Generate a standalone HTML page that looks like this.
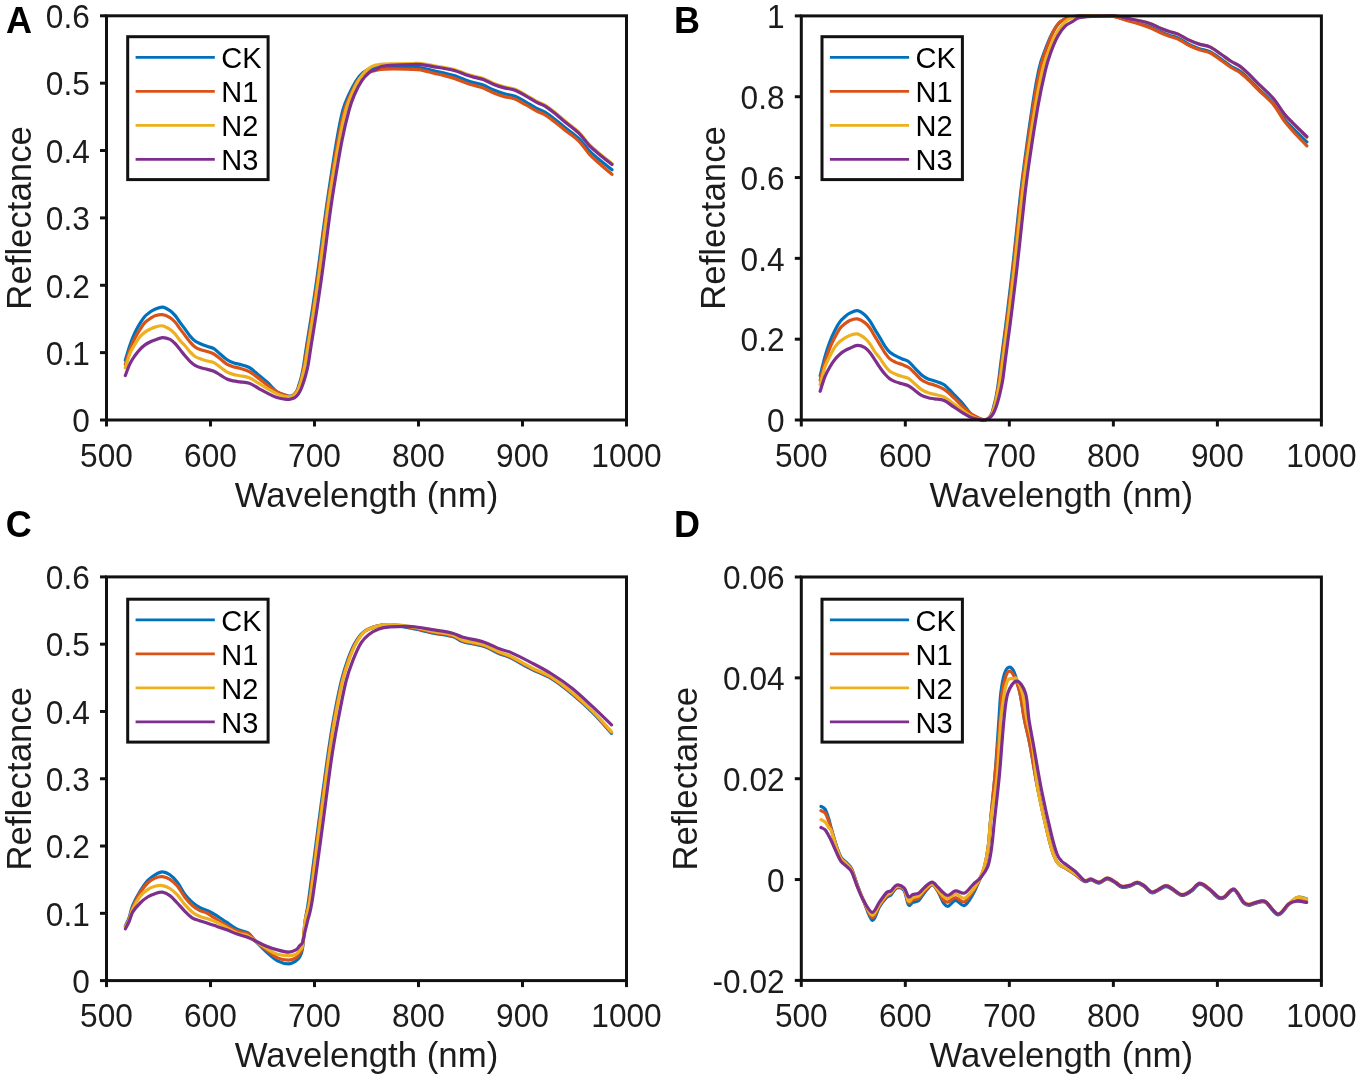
<!DOCTYPE html>
<html><head><meta charset="utf-8"><style>
html,body{margin:0;padding:0;background:#fff;}
svg{display:block;will-change:transform;}
.tk{font-family:"Liberation Sans",sans-serif;font-size:32px;fill:#1c1c1c;}
.lb{font-family:"Liberation Sans",sans-serif;font-size:34.8px;fill:#1c1c1c;}
.lg{font-family:"Liberation Sans",sans-serif;font-size:29px;fill:#000;}
.pl{font-family:"Liberation Sans",sans-serif;font-size:36px;font-weight:bold;fill:#000;}
</style></head><body>
<svg width="1360" height="1080" viewBox="0 0 1360 1080">
<rect width="1360" height="1080" fill="#fff"/>
<path d="M125.30,360.30 C126.08,357.75 128.38,349.63 130.00,345.00 C131.62,340.37 133.33,336.12 135.00,332.50 C136.67,328.88 138.33,326.00 140.00,323.30 C141.67,320.60 143.33,318.17 145.00,316.30 C146.67,314.43 148.33,313.28 150.00,312.10 C151.67,310.92 152.92,310.03 155.00,309.20 C157.08,308.37 160.00,306.87 162.50,307.10 C165.00,307.33 167.92,309.22 170.00,310.60 C172.08,311.98 173.33,313.43 175.00,315.40 C176.67,317.37 178.33,320.12 180.00,322.40 C181.67,324.68 183.33,326.83 185.00,329.10 C186.67,331.37 188.33,334.02 190.00,336.00 C191.67,337.98 193.18,339.67 195.00,341.00 C196.82,342.33 198.83,343.08 200.90,344.00 C202.97,344.92 205.23,345.72 207.40,346.50 C209.57,347.28 211.73,347.40 213.90,348.70 C216.07,350.00 218.25,352.50 220.40,354.30 C222.55,356.10 224.65,358.08 226.80,359.50 C228.95,360.92 231.13,361.98 233.30,362.80 C235.47,363.62 237.13,363.62 239.80,364.40 C242.47,365.18 246.18,365.75 249.30,367.50 C252.42,369.25 255.42,372.35 258.50,374.90 C261.58,377.45 264.72,379.98 267.80,382.80 C270.88,385.62 273.92,389.67 277.00,391.80 C280.08,393.93 284.13,394.87 286.30,395.60 C288.47,396.33 288.88,396.25 290.00,396.20 C291.12,396.15 291.88,396.12 293.00,395.30 C294.12,394.48 295.70,393.05 296.70,391.30 C297.70,389.55 298.25,387.10 299.00,384.80 C299.75,382.50 300.45,380.58 301.20,377.50 C301.95,374.42 302.63,371.38 303.50,366.30 C304.37,361.22 304.93,356.38 306.40,347.00 C307.87,337.62 310.35,322.83 312.30,310.00 C314.25,297.17 316.27,283.33 318.10,270.00 C319.93,256.67 321.62,242.50 323.30,230.00 C324.98,217.50 325.95,210.00 328.20,195.00 C330.45,180.00 334.35,154.17 336.80,140.00 C339.25,125.83 340.92,117.50 342.90,110.00 C344.88,102.50 346.50,99.85 348.70,95.00 C350.90,90.15 353.75,84.60 356.10,80.90 C358.45,77.20 360.32,74.85 362.80,72.80 C365.28,70.75 367.25,69.55 371.00,68.60 C374.75,67.65 378.37,67.32 385.30,67.10 C392.23,66.88 406.57,67.14 412.60,67.27 C418.63,67.40 417.97,67.28 421.50,67.86 C425.03,68.44 429.98,69.88 433.80,70.74 C437.62,71.60 440.87,72.18 444.40,73.03 C447.93,73.87 451.47,74.69 455.00,75.83 C458.53,76.98 462.37,78.76 465.60,79.92 C468.83,81.07 471.47,81.90 474.40,82.77 C477.33,83.64 479.97,83.90 483.20,85.12 C486.43,86.34 490.27,88.66 493.80,90.10 C497.33,91.55 500.87,92.77 504.40,93.79 C507.93,94.80 511.47,94.85 515.00,96.20 C518.53,97.55 522.07,99.92 525.60,101.90 C529.13,103.88 532.97,106.40 536.20,108.10 C539.43,109.80 542.07,110.38 545.00,112.10 C547.93,113.82 550.57,115.92 553.80,118.41 C557.03,120.91 560.28,123.79 564.40,127.09 C568.52,130.39 574.38,134.29 578.50,138.20 C582.62,142.11 585.87,147.19 589.10,150.57 C592.33,153.94 594.08,155.24 597.90,158.44 C601.72,161.65 609.65,167.91 612.00,169.80" fill="none" stroke="#0072BD" stroke-width="3.2" stroke-linejoin="round" stroke-linecap="round"/>
<path d="M125.30,364.40 C126.08,361.93 128.38,354.00 130.00,349.60 C131.62,345.20 133.33,341.35 135.00,338.00 C136.67,334.65 138.33,332.12 140.00,329.50 C141.67,326.88 143.33,324.12 145.00,322.30 C146.67,320.48 148.33,319.68 150.00,318.60 C151.67,317.52 152.92,316.47 155.00,315.80 C157.08,315.13 160.00,314.30 162.50,314.60 C165.00,314.90 167.92,316.37 170.00,317.60 C172.08,318.83 173.33,320.15 175.00,322.00 C176.67,323.85 178.33,326.47 180.00,328.70 C181.67,330.93 183.33,333.18 185.00,335.40 C186.67,337.62 188.33,340.07 190.00,342.00 C191.67,343.93 193.18,345.70 195.00,347.00 C196.82,348.30 198.83,349.03 200.90,349.80 C202.97,350.57 205.23,350.90 207.40,351.60 C209.57,352.30 211.73,352.78 213.90,354.00 C216.07,355.22 218.25,357.22 220.40,358.90 C222.55,360.58 224.65,362.80 226.80,364.10 C228.95,365.40 231.13,366.00 233.30,366.70 C235.47,367.40 237.13,367.47 239.80,368.30 C242.47,369.13 246.18,370.07 249.30,371.70 C252.42,373.33 255.42,375.78 258.50,378.10 C261.58,380.42 264.72,383.28 267.80,385.60 C270.88,387.92 273.92,390.32 277.00,392.00 C280.08,393.68 284.13,394.95 286.30,395.70 C288.47,396.45 288.88,396.50 290.00,396.50 C291.12,396.50 291.88,396.47 293.00,395.70 C294.12,394.93 295.65,393.58 296.70,391.90 C297.75,390.22 298.50,387.87 299.30,385.60 C300.10,383.33 300.70,381.58 301.50,378.30 C302.30,375.02 303.15,371.12 304.10,365.90 C305.05,360.68 305.70,356.32 307.20,347.00 C308.70,337.68 311.15,322.83 313.10,310.00 C315.05,297.17 317.07,283.33 318.90,270.00 C320.73,256.67 322.42,242.50 324.10,230.00 C325.78,217.50 326.68,210.00 329.00,195.00 C331.32,180.00 335.42,154.17 338.00,140.00 C340.58,125.83 342.45,117.50 344.50,110.00 C346.55,102.50 348.12,99.85 350.30,95.00 C352.48,90.15 355.23,84.48 357.60,80.90 C359.97,77.32 361.67,75.22 364.50,73.50 C367.33,71.78 371.13,71.33 374.60,70.60 C378.07,69.87 378.97,69.32 385.30,69.10 C391.63,68.88 406.57,69.14 412.60,69.30 C418.63,69.47 417.97,69.42 421.50,70.06 C425.03,70.71 429.98,72.24 433.80,73.18 C437.62,74.11 440.87,74.75 444.40,75.66 C447.93,76.57 451.47,77.46 455.00,78.63 C458.53,79.81 462.37,81.56 465.60,82.72 C468.83,83.87 471.47,84.70 474.40,85.57 C477.33,86.44 479.97,86.70 483.20,87.92 C486.43,89.14 490.27,91.46 493.80,92.90 C497.33,94.35 500.87,95.57 504.40,96.59 C507.93,97.60 511.47,97.65 515.00,99.00 C518.53,100.35 522.07,102.72 525.60,104.70 C529.13,106.68 532.97,109.20 536.20,110.90 C539.43,112.60 542.07,113.19 545.00,114.90 C547.93,116.61 550.57,118.68 553.80,121.16 C557.03,123.64 560.28,126.49 564.40,129.77 C568.52,133.05 574.38,136.82 578.50,140.83 C582.62,144.84 585.87,150.26 589.10,153.82 C592.33,157.38 594.08,158.78 597.90,162.21 C601.72,165.64 609.65,172.37 612.00,174.40" fill="none" stroke="#D95319" stroke-width="3.2" stroke-linejoin="round" stroke-linecap="round"/>
<path d="M125.30,367.80 C126.08,365.38 128.38,357.23 130.00,353.30 C131.62,349.37 133.33,346.97 135.00,344.20 C136.67,341.43 138.33,338.72 140.00,336.70 C141.67,334.68 143.33,333.35 145.00,332.10 C146.67,330.85 148.33,330.03 150.00,329.20 C151.67,328.37 152.92,327.67 155.00,327.10 C157.08,326.53 160.00,325.42 162.50,325.80 C165.00,326.18 167.92,328.05 170.00,329.40 C172.08,330.75 173.33,332.03 175.00,333.90 C176.67,335.77 178.33,338.62 180.00,340.60 C181.67,342.58 183.33,343.93 185.00,345.80 C186.67,347.67 188.33,350.02 190.00,351.80 C191.67,353.58 193.18,355.30 195.00,356.50 C196.82,357.70 198.83,358.25 200.90,359.00 C202.97,359.75 205.23,360.40 207.40,361.00 C209.57,361.60 211.73,361.55 213.90,362.60 C216.07,363.65 218.25,365.77 220.40,367.30 C222.55,368.83 224.65,370.62 226.80,371.80 C228.95,372.98 231.13,373.75 233.30,374.40 C235.47,375.05 237.13,375.15 239.80,375.70 C242.47,376.25 246.18,376.45 249.30,377.70 C252.42,378.95 255.42,381.35 258.50,383.20 C261.58,385.05 264.72,387.02 267.80,388.80 C270.88,390.58 273.92,392.58 277.00,393.90 C280.08,395.22 284.13,396.22 286.30,396.70 C288.47,397.18 288.88,396.90 290.00,396.80 C291.12,396.70 291.85,396.87 293.00,396.10 C294.15,395.33 295.80,393.90 296.90,392.20 C298.00,390.50 298.78,388.17 299.60,385.90 C300.42,383.63 300.92,381.93 301.80,378.60 C302.68,375.27 303.87,371.17 304.90,365.90 C305.93,360.63 306.50,356.32 308.00,347.00 C309.50,337.68 311.95,322.83 313.90,310.00 C315.85,297.17 317.87,283.33 319.70,270.00 C321.53,256.67 323.22,242.50 324.90,230.00 C326.58,217.50 327.40,210.00 329.80,195.00 C332.20,180.00 336.63,154.17 339.30,140.00 C341.97,125.83 343.80,117.50 345.80,110.00 C347.80,102.50 349.22,99.92 351.30,95.00 C353.38,90.08 356.05,84.33 358.30,80.50 C360.55,76.67 362.60,74.32 364.80,72.00 C367.00,69.68 369.13,67.85 371.50,66.60 C373.87,65.35 375.08,64.97 379.00,64.50 C382.92,64.03 389.40,63.97 395.00,63.80 C400.60,63.63 408.18,63.53 412.60,63.50 C417.02,63.47 417.97,63.22 421.50,63.60 C425.03,63.98 429.98,65.15 433.80,65.80 C437.62,66.45 440.87,66.83 444.40,67.50 C447.93,68.17 451.47,68.77 455.00,69.80 C458.53,70.83 462.37,72.60 465.60,73.70 C468.83,74.80 471.47,75.58 474.40,76.40 C477.33,77.22 479.97,77.43 483.20,78.60 C486.43,79.77 490.27,82.02 493.80,83.40 C497.33,84.78 500.87,85.93 504.40,86.90 C507.93,87.87 511.47,87.87 515.00,89.20 C518.53,90.53 522.07,92.92 525.60,94.90 C529.13,96.88 532.97,99.40 536.20,101.10 C539.43,102.80 542.07,103.35 545.00,105.10 C547.93,106.85 550.57,109.03 553.80,111.60 C557.03,114.17 560.28,117.12 564.40,120.50 C568.52,123.88 574.38,127.93 578.50,131.90 C582.62,135.87 585.87,140.92 589.10,144.30 C592.33,147.68 594.08,148.98 597.90,152.20 C601.72,155.42 609.65,161.70 612.00,163.60" fill="none" stroke="#EDB120" stroke-width="3.2" stroke-linejoin="round" stroke-linecap="round"/>
<path d="M125.30,375.60 C126.08,373.60 128.38,366.95 130.00,363.60 C131.62,360.25 133.33,357.88 135.00,355.50 C136.67,353.12 138.33,351.07 140.00,349.30 C141.67,347.53 143.33,346.12 145.00,344.90 C146.67,343.68 148.33,342.82 150.00,342.00 C151.67,341.18 152.92,340.73 155.00,340.00 C157.08,339.27 160.00,337.70 162.50,337.60 C165.00,337.50 167.92,338.42 170.00,339.40 C172.08,340.38 173.33,341.82 175.00,343.50 C176.67,345.18 178.33,347.45 180.00,349.50 C181.67,351.55 183.33,353.83 185.00,355.80 C186.67,357.77 188.33,359.72 190.00,361.30 C191.67,362.88 193.18,364.22 195.00,365.30 C196.82,366.38 198.83,367.12 200.90,367.80 C202.97,368.48 205.23,368.83 207.40,369.40 C209.57,369.97 211.73,370.25 213.90,371.20 C216.07,372.15 218.25,373.80 220.40,375.10 C222.55,376.40 224.65,378.03 226.80,379.00 C228.95,379.97 231.13,380.42 233.30,380.90 C235.47,381.38 237.13,381.52 239.80,381.90 C242.47,382.28 246.18,382.13 249.30,383.20 C252.42,384.27 255.42,386.60 258.50,388.30 C261.58,390.00 264.72,391.85 267.80,393.40 C270.88,394.95 273.92,396.60 277.00,397.60 C280.08,398.60 284.13,399.12 286.30,399.40 C288.47,399.68 288.58,399.60 290.00,399.30 C291.42,399.00 293.38,398.50 294.80,397.60 C296.22,396.70 297.38,395.50 298.50,393.90 C299.62,392.30 300.57,390.22 301.50,388.00 C302.43,385.78 303.37,382.88 304.10,380.60 C304.83,378.32 305.23,376.90 305.90,374.30 C306.57,371.70 307.27,369.55 308.10,365.00 C308.93,360.45 309.45,356.17 310.90,347.00 C312.35,337.83 314.85,322.83 316.80,310.00 C318.75,297.17 320.77,283.33 322.60,270.00 C324.43,256.67 326.12,242.50 327.80,230.00 C329.48,217.50 330.32,210.00 332.70,195.00 C335.08,180.00 339.37,154.17 342.10,140.00 C344.83,125.83 347.07,117.50 349.10,110.00 C351.13,102.50 352.20,99.85 354.30,95.00 C356.40,90.15 359.23,84.60 361.70,80.90 C364.17,77.20 366.63,74.77 369.10,72.80 C371.57,70.83 374.35,70.18 376.50,69.10 C378.65,68.02 378.92,66.98 382.00,66.30 C385.08,65.62 389.90,65.30 395.00,65.00 C400.10,64.70 408.18,64.57 412.60,64.50 C417.02,64.43 417.97,64.22 421.50,64.60 C425.03,64.98 429.98,66.15 433.80,66.80 C437.62,67.45 440.87,67.83 444.40,68.50 C447.93,69.17 451.47,69.77 455.00,70.80 C458.53,71.83 462.37,73.60 465.60,74.70 C468.83,75.80 471.47,76.58 474.40,77.40 C477.33,78.22 479.97,78.43 483.20,79.60 C486.43,80.77 490.27,83.02 493.80,84.40 C497.33,85.78 500.87,86.93 504.40,87.90 C507.93,88.87 511.47,88.87 515.00,90.20 C518.53,91.53 522.07,93.92 525.60,95.90 C529.13,97.88 532.97,100.40 536.20,102.10 C539.43,103.80 542.07,104.35 545.00,106.10 C547.93,107.85 550.57,110.03 553.80,112.60 C557.03,115.17 560.28,118.12 564.40,121.50 C568.52,124.88 574.38,128.93 578.50,132.90 C582.62,136.87 585.87,141.92 589.10,145.30 C592.33,148.68 594.08,149.98 597.90,153.20 C601.72,156.42 609.65,162.70 612.00,164.60" fill="none" stroke="#7E2F8E" stroke-width="3.2" stroke-linejoin="round" stroke-linecap="round"/>
<rect x="106.5" y="15.8" width="520.00" height="404.20" fill="none" stroke="#111" stroke-width="3"/>
<line x1="106.50" y1="420" x2="106.50" y2="426.5" stroke="#111" stroke-width="3"/>
<text transform="translate(106.50,466.5) scale(0.99,1.04)" text-anchor="middle" class="tk">500</text>
<line x1="210.50" y1="420" x2="210.50" y2="426.5" stroke="#111" stroke-width="3"/>
<text transform="translate(210.50,466.5) scale(0.99,1.04)" text-anchor="middle" class="tk">600</text>
<line x1="314.50" y1="420" x2="314.50" y2="426.5" stroke="#111" stroke-width="3"/>
<text transform="translate(314.50,466.5) scale(0.99,1.04)" text-anchor="middle" class="tk">700</text>
<line x1="418.50" y1="420" x2="418.50" y2="426.5" stroke="#111" stroke-width="3"/>
<text transform="translate(418.50,466.5) scale(0.99,1.04)" text-anchor="middle" class="tk">800</text>
<line x1="522.50" y1="420" x2="522.50" y2="426.5" stroke="#111" stroke-width="3"/>
<text transform="translate(522.50,466.5) scale(0.99,1.04)" text-anchor="middle" class="tk">900</text>
<line x1="626.50" y1="420" x2="626.50" y2="426.5" stroke="#111" stroke-width="3"/>
<text transform="translate(626.50,466.5) scale(0.99,1.04)" text-anchor="middle" class="tk">1000</text>
<line x1="100.0" y1="420.00" x2="106.5" y2="420.00" stroke="#111" stroke-width="3"/>
<text transform="translate(89.8,432.30) scale(0.99,1.04)" text-anchor="end" class="tk">0</text>
<line x1="100.0" y1="352.63" x2="106.5" y2="352.63" stroke="#111" stroke-width="3"/>
<text transform="translate(89.8,364.93) scale(0.99,1.04)" text-anchor="end" class="tk">0.1</text>
<line x1="100.0" y1="285.27" x2="106.5" y2="285.27" stroke="#111" stroke-width="3"/>
<text transform="translate(89.8,297.57) scale(0.99,1.04)" text-anchor="end" class="tk">0.2</text>
<line x1="100.0" y1="217.90" x2="106.5" y2="217.90" stroke="#111" stroke-width="3"/>
<text transform="translate(89.8,230.20) scale(0.99,1.04)" text-anchor="end" class="tk">0.3</text>
<line x1="100.0" y1="150.53" x2="106.5" y2="150.53" stroke="#111" stroke-width="3"/>
<text transform="translate(89.8,162.83) scale(0.99,1.04)" text-anchor="end" class="tk">0.4</text>
<line x1="100.0" y1="83.17" x2="106.5" y2="83.17" stroke="#111" stroke-width="3"/>
<text transform="translate(89.8,95.47) scale(0.99,1.04)" text-anchor="end" class="tk">0.5</text>
<line x1="100.0" y1="15.80" x2="106.5" y2="15.80" stroke="#111" stroke-width="3"/>
<text transform="translate(89.8,28.10) scale(0.99,1.04)" text-anchor="end" class="tk">0.6</text>
<text transform="translate(366.50,506.5) scale(1,1.03)" text-anchor="middle" class="lb">Wavelength (nm)</text>
<text transform="translate(30.6,217.90) rotate(-90) scale(1,1.03)" text-anchor="middle" class="lb">Reflectance</text>
<text x="6" y="32.8" class="pl">A</text>
<rect x="127.7" y="36.7" width="140.4" height="142.9" fill="#fff" stroke="#111" stroke-width="3"/>
<line x1="135.6" y1="57.40" x2="214.8" y2="57.40" stroke="#0072BD" stroke-width="2.8"/>
<text x="221.2" y="68.00" class="lg">CK</text>
<line x1="135.6" y1="91.40" x2="214.8" y2="91.40" stroke="#D95319" stroke-width="2.8"/>
<text x="221.2" y="102.00" class="lg">N1</text>
<line x1="135.6" y1="125.40" x2="214.8" y2="125.40" stroke="#EDB120" stroke-width="2.8"/>
<text x="221.2" y="136.00" class="lg">N2</text>
<line x1="135.6" y1="159.40" x2="214.8" y2="159.40" stroke="#7E2F8E" stroke-width="2.8"/>
<text x="221.2" y="170.00" class="lg">N3</text>
<path d="M820.15,375.92 C820.93,372.79 823.23,362.82 824.85,357.13 C826.47,351.44 828.18,346.22 829.85,341.78 C831.52,337.34 833.18,333.80 834.85,330.49 C836.52,327.17 838.18,324.18 839.85,321.89 C841.52,319.60 843.18,318.19 844.85,316.73 C846.52,315.28 847.77,314.20 849.85,313.17 C851.93,312.15 854.85,310.31 857.35,310.59 C859.85,310.88 862.77,313.19 864.85,314.89 C866.93,316.59 868.18,318.37 869.85,320.79 C871.52,323.20 873.18,326.58 874.85,329.38 C876.52,332.19 878.18,334.83 879.85,337.61 C881.52,340.39 883.18,343.65 884.85,346.08 C886.52,348.52 888.03,350.58 889.85,352.22 C891.67,353.86 893.68,354.78 895.75,355.90 C897.82,357.03 900.08,358.01 902.25,358.97 C904.42,359.94 906.58,360.08 908.75,361.68 C910.92,363.27 913.10,366.34 915.25,368.55 C917.40,370.76 919.50,373.20 921.65,374.94 C923.80,376.68 925.98,377.99 928.15,378.99 C930.32,379.99 931.98,379.99 934.65,380.95 C937.32,381.91 941.03,382.61 944.15,384.76 C947.27,386.91 950.27,390.71 953.35,393.85 C956.43,396.98 959.57,400.09 962.65,403.55 C965.73,407.00 968.77,411.98 971.85,414.60 C974.93,417.22 978.98,418.36 981.15,419.26 C983.32,420.16 983.73,420.06 984.85,420.00 C985.97,419.94 986.73,419.90 987.85,418.89 C988.97,417.89 990.55,416.13 991.55,413.98 C992.55,411.83 993.10,408.83 993.85,406.00 C994.60,403.18 995.30,400.82 996.05,397.04 C996.80,393.25 997.48,389.53 998.35,383.29 C999.22,377.04 999.78,371.11 1001.25,359.59 C1002.72,348.07 1005.20,329.91 1007.15,314.16 C1009.10,298.40 1011.12,281.41 1012.95,265.04 C1014.78,248.67 1016.46,231.27 1018.15,215.92 C1019.84,200.58 1020.71,191.37 1023.11,172.95 C1025.51,154.53 1029.88,122.81 1032.54,105.41 C1035.21,88.02 1037.01,77.79 1039.10,68.58 C1041.18,59.37 1042.82,56.11 1045.05,50.16 C1047.28,44.20 1050.10,37.39 1052.45,32.84 C1054.80,28.30 1056.67,25.42 1059.15,22.90 C1061.63,20.38 1063.60,18.91 1067.35,17.74 C1071.10,16.58 1074.72,16.17 1081.65,15.90 C1088.58,15.63 1103.17,15.95 1108.95,16.11 C1114.73,16.27 1113.07,16.13 1116.35,16.84 C1119.63,17.55 1124.83,19.31 1128.65,20.37 C1132.47,21.43 1135.72,22.13 1139.25,23.18 C1142.78,24.22 1146.32,25.21 1149.85,26.63 C1153.38,28.04 1157.22,30.22 1160.45,31.64 C1163.68,33.06 1166.32,34.07 1169.25,35.14 C1172.18,36.20 1174.82,36.53 1178.05,38.03 C1181.28,39.53 1185.12,42.37 1188.65,44.15 C1192.18,45.92 1195.72,47.42 1199.25,48.67 C1202.78,49.92 1206.32,49.97 1209.85,51.63 C1213.38,53.29 1216.92,56.20 1220.45,58.63 C1223.98,61.07 1227.82,64.16 1231.05,66.24 C1234.28,68.33 1236.92,69.04 1239.85,71.16 C1242.78,73.27 1245.42,75.84 1248.65,78.91 C1251.88,81.97 1255.13,85.51 1259.25,89.56 C1263.37,93.61 1269.23,98.40 1273.35,103.20 C1277.47,108.01 1280.72,114.25 1283.95,118.39 C1287.18,122.53 1288.93,124.12 1292.75,128.06 C1296.57,131.99 1304.50,139.68 1306.85,142.00" fill="none" stroke="#0072BD" stroke-width="3.2" stroke-linejoin="round" stroke-linecap="round"/>
<path d="M820.15,380.38 C820.93,377.34 823.23,367.54 824.85,362.11 C826.47,356.68 828.18,351.93 829.85,347.80 C831.52,343.66 833.18,340.53 834.85,337.30 C836.52,334.07 838.18,330.66 839.85,328.42 C841.52,326.17 843.18,325.19 844.85,323.85 C846.52,322.51 847.77,321.22 849.85,320.39 C851.93,319.57 854.85,318.54 857.35,318.91 C859.85,319.28 862.77,321.09 864.85,322.62 C866.93,324.14 868.18,325.76 869.85,328.05 C871.52,330.33 873.18,333.56 874.85,336.32 C876.52,339.07 878.18,341.85 879.85,344.59 C881.52,347.32 883.18,350.35 884.85,352.73 C886.52,355.12 888.03,357.30 889.85,358.90 C891.67,360.51 893.68,361.41 895.75,362.36 C897.82,363.31 900.08,363.72 902.25,364.58 C904.42,365.45 906.58,366.04 908.75,367.54 C910.92,369.05 913.10,371.51 915.25,373.59 C917.40,375.67 919.50,378.41 921.65,380.01 C923.80,381.61 925.98,382.35 928.15,383.22 C930.32,384.08 931.98,384.17 934.65,385.19 C937.32,386.22 941.03,387.37 944.15,389.39 C947.27,391.41 950.27,394.43 953.35,397.29 C956.43,400.15 959.57,403.69 962.65,406.55 C965.73,409.41 968.77,412.37 971.85,414.45 C974.93,416.52 978.98,418.09 981.15,419.01 C983.32,419.94 983.73,420.00 984.85,420.00 C985.97,420.00 986.73,419.96 987.85,419.01 C988.97,418.07 990.50,416.40 991.55,414.32 C992.60,412.24 993.35,409.34 994.15,406.55 C994.95,403.75 995.55,401.59 996.35,397.54 C997.15,393.48 998.00,388.67 998.95,382.23 C999.90,375.79 1000.55,370.40 1002.05,358.90 C1003.55,347.40 1006.00,329.08 1007.95,313.24 C1009.90,297.40 1011.92,280.32 1013.75,263.86 C1015.58,247.41 1017.25,229.92 1018.95,214.49 C1020.65,199.07 1021.46,189.81 1023.93,171.29 C1026.40,152.78 1030.97,120.90 1033.77,103.41 C1036.57,85.92 1038.58,75.64 1040.73,66.38 C1042.87,57.12 1044.45,53.85 1046.65,47.87 C1048.85,41.88 1051.58,34.89 1053.95,30.46 C1056.32,26.04 1058.02,23.45 1060.85,21.33 C1063.68,19.21 1067.48,18.66 1070.95,17.75 C1074.42,16.85 1075.32,16.17 1081.65,15.90 C1087.98,15.63 1103.17,15.95 1108.95,16.15 C1114.73,16.35 1113.07,16.29 1116.35,17.09 C1119.63,17.89 1124.83,19.78 1128.65,20.93 C1132.47,22.08 1135.72,22.88 1139.25,24.00 C1142.78,25.12 1146.32,26.22 1149.85,27.67 C1153.38,29.12 1157.22,31.28 1160.45,32.71 C1163.68,34.13 1166.32,35.16 1169.25,36.23 C1172.18,37.30 1174.82,37.62 1178.05,39.13 C1181.28,40.64 1185.12,43.50 1188.65,45.28 C1192.18,47.06 1195.72,48.57 1199.25,49.83 C1202.78,51.08 1206.32,51.14 1209.85,52.80 C1213.38,54.47 1216.92,57.39 1220.45,59.84 C1223.98,62.29 1227.82,65.39 1231.05,67.49 C1234.28,69.59 1236.92,70.32 1239.85,72.43 C1242.78,74.54 1245.42,77.10 1248.65,80.16 C1251.88,83.22 1255.13,86.74 1259.25,90.78 C1263.37,94.83 1269.23,99.48 1273.35,104.43 C1277.47,109.38 1280.72,116.07 1283.95,120.47 C1287.18,124.87 1288.93,126.59 1292.75,130.83 C1296.57,135.06 1304.50,143.36 1306.85,145.87" fill="none" stroke="#D95319" stroke-width="3.2" stroke-linejoin="round" stroke-linecap="round"/>
<path d="M820.15,384.84 C820.93,381.91 823.23,372.03 824.85,367.26 C826.47,362.49 828.18,359.58 829.85,356.23 C831.52,352.87 833.18,349.58 834.85,347.13 C836.52,344.69 838.18,343.07 839.85,341.56 C841.52,340.04 843.18,339.05 844.85,338.04 C846.52,337.03 847.77,336.18 849.85,335.49 C851.93,334.81 854.85,333.45 857.35,333.92 C859.85,334.38 862.77,336.65 864.85,338.28 C866.93,339.92 868.18,341.48 869.85,343.74 C871.52,346.00 873.18,349.46 874.85,351.86 C876.52,354.27 878.18,355.90 879.85,358.17 C881.52,360.43 883.18,363.28 884.85,365.44 C886.52,367.60 888.03,369.68 889.85,371.14 C891.67,372.59 893.68,373.26 895.75,374.17 C897.82,375.08 900.08,375.87 902.25,376.60 C904.42,377.32 906.58,377.26 908.75,378.54 C910.92,379.81 913.10,382.37 915.25,384.23 C917.40,386.09 919.50,388.25 921.65,389.69 C923.80,391.12 925.98,392.05 928.15,392.84 C930.32,393.63 931.98,393.75 934.65,394.42 C937.32,395.08 941.03,395.33 944.15,396.84 C947.27,398.36 950.27,401.27 953.35,403.51 C956.43,405.75 959.57,408.14 962.65,410.30 C965.73,412.46 968.77,414.89 971.85,416.48 C974.93,418.08 978.98,419.29 981.15,419.88 C983.32,420.46 983.73,420.12 984.85,420.00 C985.97,419.88 986.70,420.08 987.85,419.15 C989.00,418.22 990.65,416.48 991.75,414.42 C992.85,412.36 993.63,409.53 994.45,406.78 C995.27,404.04 995.77,401.98 996.65,397.93 C997.53,393.89 998.72,388.92 999.75,382.54 C1000.78,376.15 1001.35,370.92 1002.85,359.62 C1004.35,348.33 1006.80,330.32 1008.75,314.76 C1010.70,299.20 1012.72,282.43 1014.55,266.26 C1016.38,250.10 1018.06,232.92 1019.75,217.77 C1021.44,202.61 1022.14,193.52 1024.68,175.33 C1027.22,157.15 1032.12,125.83 1035.00,108.65 C1037.88,91.47 1039.84,81.37 1041.95,72.28 C1044.06,63.18 1045.53,60.05 1047.65,54.09 C1049.77,48.13 1052.40,41.16 1054.65,36.51 C1056.90,31.86 1058.95,29.01 1061.15,26.21 C1063.35,23.40 1065.48,21.17 1067.85,19.66 C1070.22,18.14 1071.43,17.68 1075.35,17.11 C1079.27,16.55 1085.75,16.47 1091.35,16.26 C1096.95,16.06 1104.78,15.94 1108.95,15.90 C1113.12,15.86 1113.07,15.56 1116.35,16.02 C1119.63,16.49 1124.83,17.90 1128.65,18.69 C1132.47,19.48 1135.72,19.94 1139.25,20.75 C1142.78,21.56 1146.32,22.29 1149.85,23.54 C1153.38,24.79 1157.22,26.93 1160.45,28.27 C1163.68,29.60 1166.32,30.55 1169.25,31.54 C1172.18,32.53 1174.82,32.79 1178.05,34.21 C1181.28,35.62 1185.12,38.35 1188.65,40.03 C1192.18,41.70 1195.72,43.10 1199.25,44.27 C1202.78,45.44 1206.32,45.44 1209.85,47.06 C1213.38,48.68 1216.92,51.57 1220.45,53.97 C1223.98,56.37 1227.82,59.43 1231.05,61.49 C1234.28,63.55 1236.92,64.21 1239.85,66.34 C1242.78,68.46 1245.42,71.11 1248.65,74.22 C1251.88,77.33 1255.13,80.91 1259.25,85.01 C1263.37,89.11 1269.23,94.02 1273.35,98.83 C1277.47,103.64 1280.72,109.76 1283.95,113.86 C1287.18,117.97 1288.93,119.54 1292.75,123.44 C1296.57,127.34 1304.50,134.96 1306.85,137.26" fill="none" stroke="#EDB120" stroke-width="3.2" stroke-linejoin="round" stroke-linecap="round"/>
<path d="M820.15,391.28 C820.93,388.87 823.23,380.84 824.85,376.80 C826.47,372.76 828.18,369.90 829.85,367.03 C831.52,364.15 833.18,361.68 834.85,359.55 C836.52,357.42 838.18,355.71 839.85,354.24 C841.52,352.77 843.18,351.72 844.85,350.74 C846.52,349.75 847.77,349.21 849.85,348.33 C851.93,347.44 854.85,345.55 857.35,345.43 C859.85,345.31 862.77,346.42 864.85,347.60 C866.93,348.79 868.18,350.52 869.85,352.55 C871.52,354.58 873.18,357.32 874.85,359.79 C876.52,362.26 878.18,365.02 879.85,367.39 C881.52,369.76 883.18,372.12 884.85,374.03 C886.52,375.94 888.03,377.55 889.85,378.85 C891.67,380.16 893.68,381.05 895.75,381.87 C897.82,382.70 900.08,383.12 902.25,383.80 C904.42,384.48 906.58,384.83 908.75,385.97 C910.92,387.12 913.10,389.11 915.25,390.68 C917.40,392.25 919.50,394.22 921.65,395.38 C923.80,396.55 925.98,397.09 928.15,397.68 C930.32,398.26 931.98,398.42 934.65,398.88 C937.32,399.35 941.03,399.17 944.15,400.45 C947.27,401.74 950.27,404.56 953.35,406.61 C956.43,408.66 959.57,410.89 962.65,412.76 C965.73,414.63 968.77,416.62 971.85,417.83 C974.93,419.03 978.98,419.66 981.15,420.00 C983.32,420.34 983.43,420.24 984.85,419.88 C986.27,419.52 988.23,418.91 989.65,417.83 C991.07,416.74 992.23,415.29 993.35,413.36 C994.47,411.43 995.42,408.92 996.35,406.24 C997.28,403.57 998.22,400.07 998.95,397.32 C999.68,394.56 1000.08,392.85 1000.75,389.71 C1001.42,386.58 1002.12,383.98 1002.95,378.49 C1003.78,373.00 1004.30,367.83 1005.75,356.77 C1007.20,345.71 1009.70,327.61 1011.65,312.13 C1013.60,296.64 1015.62,279.95 1017.45,263.86 C1019.28,247.77 1020.96,230.68 1022.65,215.60 C1024.34,200.51 1025.07,191.46 1027.60,173.37 C1030.13,155.27 1034.88,124.09 1037.82,107.00 C1040.77,89.91 1043.13,79.85 1045.27,70.80 C1047.41,61.75 1048.52,58.55 1050.65,52.70 C1052.78,46.85 1055.58,40.15 1058.05,35.69 C1060.52,31.22 1062.98,28.29 1065.45,25.92 C1067.92,23.54 1070.70,22.76 1072.85,21.45 C1075.00,20.14 1075.27,18.90 1078.35,18.07 C1081.43,17.25 1086.25,16.87 1091.35,16.50 C1096.45,16.14 1104.78,15.98 1108.95,15.90 C1113.12,15.82 1113.07,15.56 1116.35,16.02 C1119.63,16.48 1124.83,17.89 1128.65,18.68 C1132.47,19.46 1135.72,19.92 1139.25,20.73 C1142.78,21.53 1146.32,22.25 1149.85,23.50 C1153.38,24.75 1157.22,26.88 1160.45,28.21 C1163.68,29.53 1166.32,30.48 1169.25,31.47 C1172.18,32.45 1174.82,32.71 1178.05,34.12 C1181.28,35.53 1185.12,38.24 1188.65,39.91 C1192.18,41.58 1195.72,42.97 1199.25,44.14 C1202.78,45.30 1206.32,45.30 1209.85,46.91 C1213.38,48.52 1216.92,51.39 1220.45,53.79 C1223.98,56.18 1227.82,59.22 1231.05,61.27 C1234.28,63.32 1236.92,63.98 1239.85,66.10 C1242.78,68.21 1245.42,70.84 1248.65,73.94 C1251.88,77.04 1255.13,80.60 1259.25,84.68 C1263.37,88.76 1269.23,93.65 1273.35,98.43 C1277.47,103.22 1280.72,109.31 1283.95,113.40 C1287.18,117.48 1288.93,119.05 1292.75,122.93 C1296.57,126.81 1304.50,134.39 1306.85,136.68" fill="none" stroke="#7E2F8E" stroke-width="3.2" stroke-linejoin="round" stroke-linecap="round"/>
<rect x="801.3" y="15.9" width="520.10" height="404.10" fill="none" stroke="#111" stroke-width="3"/>
<line x1="801.30" y1="420" x2="801.30" y2="426.5" stroke="#111" stroke-width="3"/>
<text transform="translate(801.30,466.5) scale(0.99,1.04)" text-anchor="middle" class="tk">500</text>
<line x1="905.32" y1="420" x2="905.32" y2="426.5" stroke="#111" stroke-width="3"/>
<text transform="translate(905.32,466.5) scale(0.99,1.04)" text-anchor="middle" class="tk">600</text>
<line x1="1009.34" y1="420" x2="1009.34" y2="426.5" stroke="#111" stroke-width="3"/>
<text transform="translate(1009.34,466.5) scale(0.99,1.04)" text-anchor="middle" class="tk">700</text>
<line x1="1113.36" y1="420" x2="1113.36" y2="426.5" stroke="#111" stroke-width="3"/>
<text transform="translate(1113.36,466.5) scale(0.99,1.04)" text-anchor="middle" class="tk">800</text>
<line x1="1217.38" y1="420" x2="1217.38" y2="426.5" stroke="#111" stroke-width="3"/>
<text transform="translate(1217.38,466.5) scale(0.99,1.04)" text-anchor="middle" class="tk">900</text>
<line x1="1321.40" y1="420" x2="1321.40" y2="426.5" stroke="#111" stroke-width="3"/>
<text transform="translate(1321.40,466.5) scale(0.99,1.04)" text-anchor="middle" class="tk">1000</text>
<line x1="794.8" y1="420.00" x2="801.3" y2="420.00" stroke="#111" stroke-width="3"/>
<text transform="translate(784.5999999999999,432.30) scale(0.99,1.04)" text-anchor="end" class="tk">0</text>
<line x1="794.8" y1="339.18" x2="801.3" y2="339.18" stroke="#111" stroke-width="3"/>
<text transform="translate(784.5999999999999,351.48) scale(0.99,1.04)" text-anchor="end" class="tk">0.2</text>
<line x1="794.8" y1="258.36" x2="801.3" y2="258.36" stroke="#111" stroke-width="3"/>
<text transform="translate(784.5999999999999,270.66) scale(0.99,1.04)" text-anchor="end" class="tk">0.4</text>
<line x1="794.8" y1="177.54" x2="801.3" y2="177.54" stroke="#111" stroke-width="3"/>
<text transform="translate(784.5999999999999,189.84) scale(0.99,1.04)" text-anchor="end" class="tk">0.6</text>
<line x1="794.8" y1="96.72" x2="801.3" y2="96.72" stroke="#111" stroke-width="3"/>
<text transform="translate(784.5999999999999,109.02) scale(0.99,1.04)" text-anchor="end" class="tk">0.8</text>
<line x1="794.8" y1="15.90" x2="801.3" y2="15.90" stroke="#111" stroke-width="3"/>
<text transform="translate(784.5999999999999,28.20) scale(0.99,1.04)" text-anchor="end" class="tk">1</text>
<text transform="translate(1061.35,506.5) scale(1,1.03)" text-anchor="middle" class="lb">Wavelength (nm)</text>
<text transform="translate(725,217.95) rotate(-90) scale(1,1.03)" text-anchor="middle" class="lb">Reflectance</text>
<text x="674" y="32.9" class="pl">B</text>
<rect x="822" y="36.7" width="140.4" height="142.9" fill="#fff" stroke="#111" stroke-width="3"/>
<line x1="829.9" y1="57.40" x2="909.1" y2="57.40" stroke="#0072BD" stroke-width="2.8"/>
<text x="915.5" y="68.00" class="lg">CK</text>
<line x1="829.9" y1="91.40" x2="909.1" y2="91.40" stroke="#D95319" stroke-width="2.8"/>
<text x="915.5" y="102.00" class="lg">N1</text>
<line x1="829.9" y1="125.40" x2="909.1" y2="125.40" stroke="#EDB120" stroke-width="2.8"/>
<text x="915.5" y="136.00" class="lg">N2</text>
<line x1="829.9" y1="159.40" x2="909.1" y2="159.40" stroke="#7E2F8E" stroke-width="2.8"/>
<text x="915.5" y="170.00" class="lg">N3</text>
<path d="M125.40,926.00 C126.02,924.63 127.87,921.27 129.10,917.80 C130.33,914.33 130.95,909.65 132.80,905.20 C134.65,900.75 137.73,895.18 140.20,891.10 C142.67,887.02 145.13,883.42 147.60,880.70 C150.07,877.98 152.53,876.27 155.00,874.80 C157.47,873.33 159.92,871.90 162.40,871.90 C164.88,871.90 167.42,873.08 169.90,874.80 C172.38,876.52 174.83,878.98 177.30,882.20 C179.77,885.42 182.23,890.77 184.70,894.10 C187.17,897.43 189.63,899.98 192.10,902.20 C194.57,904.42 197.03,906.03 199.50,907.40 C201.97,908.77 204.38,909.23 206.90,910.40 C209.42,911.57 211.42,912.48 214.60,914.40 C217.78,916.32 222.25,919.42 226.00,921.90 C229.75,924.38 233.42,927.47 237.10,929.30 C240.78,931.13 245.05,930.95 248.10,932.90 C251.15,934.85 252.33,937.80 255.40,941.00 C258.47,944.20 262.82,948.78 266.50,952.10 C270.18,955.42 273.83,958.95 277.50,960.90 C281.17,962.85 285.43,963.80 288.50,963.80 C291.57,963.80 294.05,962.03 295.90,960.90 C297.75,959.77 298.50,959.07 299.60,957.00 C300.70,954.93 301.55,954.67 302.50,948.50 C303.45,942.33 304.27,928.08 305.30,920.00 C306.33,911.92 306.62,915.00 308.70,900.00 C310.78,885.00 314.72,853.33 317.80,830.00 C320.88,806.67 324.60,778.33 327.20,760.00 C329.80,741.67 331.05,733.17 333.40,720.00 C335.75,706.83 338.88,691.10 341.30,681.00 C343.72,670.90 345.60,665.77 347.90,659.40 C350.20,653.03 352.43,647.42 355.10,642.80 C357.77,638.18 360.30,634.48 363.90,631.70 C367.50,628.92 372.43,627.27 376.70,626.10 C380.97,624.93 383.70,624.33 389.50,624.70 C395.30,625.07 404.42,626.93 411.50,628.30 C418.58,629.67 425.15,631.53 432.00,632.90 C438.85,634.27 447.43,635.03 452.60,636.50 C457.77,637.97 457.85,640.07 463.00,641.70 C468.15,643.33 477.33,644.25 483.50,646.30 C489.67,648.35 495.48,652.08 500.00,654.00 C504.52,655.92 505.40,655.28 510.60,657.80 C515.80,660.32 524.33,665.58 531.20,669.10 C538.07,672.62 544.93,674.70 551.80,678.90 C558.67,683.10 565.55,688.63 572.40,694.30 C579.25,699.97 586.38,706.38 592.90,712.90 C599.42,719.42 608.40,729.98 611.50,733.40" fill="none" stroke="#0072BD" stroke-width="3.2" stroke-linejoin="round" stroke-linecap="round"/>
<path d="M125.40,926.50 C126.02,925.30 127.87,922.48 129.10,919.30 C130.33,916.12 130.95,911.85 132.80,907.40 C134.65,902.95 137.73,896.67 140.20,892.60 C142.67,888.53 145.13,885.42 147.60,883.00 C150.07,880.58 152.53,879.15 155.00,878.10 C157.47,877.05 159.92,876.50 162.40,876.70 C164.88,876.90 167.42,877.77 169.90,879.30 C172.38,880.83 174.83,882.95 177.30,885.90 C179.77,888.85 182.23,893.78 184.70,897.00 C187.17,900.22 189.63,902.97 192.10,905.20 C194.57,907.43 197.03,909.10 199.50,910.40 C201.97,911.70 204.38,911.73 206.90,913.00 C209.42,914.27 211.42,915.97 214.60,918.00 C217.78,920.03 222.25,923.02 226.00,925.20 C229.75,927.38 233.42,929.63 237.10,931.10 C240.78,932.57 245.05,932.35 248.10,934.00 C251.15,935.65 252.33,938.35 255.40,941.00 C258.47,943.65 262.82,947.08 266.50,949.90 C270.18,952.72 273.83,956.20 277.50,957.90 C281.17,959.60 285.43,960.10 288.50,960.10 C291.57,960.10 294.05,959.03 295.90,957.90 C297.75,956.77 298.50,955.12 299.60,953.30 C300.70,951.48 301.55,952.55 302.50,947.00 C303.45,941.45 304.15,927.83 305.30,920.00 C306.45,912.17 307.20,915.00 309.40,900.00 C311.60,885.00 315.42,853.33 318.50,830.00 C321.58,806.67 325.30,778.33 327.90,760.00 C330.50,741.67 331.75,733.17 334.10,720.00 C336.45,706.83 339.58,691.10 342.00,681.00 C344.42,670.90 346.30,665.77 348.60,659.40 C350.90,653.03 353.19,647.42 355.80,642.80 C358.41,638.18 360.71,634.48 364.25,631.70 C367.79,628.92 372.78,627.27 377.05,626.10 C381.32,624.93 384.11,624.47 389.85,624.70 C395.59,624.93 404.48,626.27 411.50,627.50 C418.52,628.73 425.15,630.73 432.00,632.10 C438.85,633.47 447.43,634.23 452.60,635.70 C457.77,637.17 457.85,639.27 463.00,640.90 C468.15,642.53 477.33,643.45 483.50,645.50 C489.67,647.55 495.48,651.28 500.00,653.20 C504.52,655.12 505.40,654.48 510.60,657.00 C515.80,659.52 524.33,664.78 531.20,668.30 C538.07,671.82 544.93,673.90 551.80,678.10 C558.67,682.30 565.55,687.83 572.40,693.50 C579.25,699.17 586.38,705.58 592.90,712.10 C599.42,718.62 608.40,729.18 611.50,732.60" fill="none" stroke="#D95319" stroke-width="3.2" stroke-linejoin="round" stroke-linecap="round"/>
<path d="M125.40,927.00 C126.02,925.83 127.87,923.02 129.10,920.00 C130.33,916.98 130.95,912.85 132.80,908.90 C134.65,904.95 137.73,899.52 140.20,896.30 C142.67,893.08 145.13,891.27 147.60,889.60 C150.07,887.93 152.53,886.97 155.00,886.30 C157.47,885.63 159.92,885.23 162.40,885.60 C164.88,885.97 167.42,886.97 169.90,888.50 C172.38,890.03 174.83,892.15 177.30,894.80 C179.77,897.45 182.23,901.55 184.70,904.40 C187.17,907.25 189.63,909.92 192.10,911.90 C194.57,913.88 197.03,915.20 199.50,916.30 C201.97,917.40 204.38,917.67 206.90,918.50 C209.42,919.33 211.42,919.87 214.60,921.30 C217.78,922.73 222.25,925.17 226.00,927.10 C229.75,929.03 233.42,931.43 237.10,932.90 C240.78,934.37 245.05,934.55 248.10,935.90 C251.15,937.25 252.33,938.92 255.40,941.00 C258.47,943.08 262.82,946.18 266.50,948.40 C270.18,950.62 273.83,953.08 277.50,954.30 C281.17,955.52 285.43,955.70 288.50,955.70 C291.57,955.70 294.05,955.20 295.90,954.30 C297.75,953.40 298.50,951.77 299.60,950.30 C300.70,948.83 301.55,950.55 302.50,945.50 C303.45,940.45 304.05,927.58 305.30,920.00 C306.55,912.42 307.70,915.00 310.00,900.00 C312.30,885.00 316.02,853.33 319.10,830.00 C322.18,806.67 325.90,778.33 328.50,760.00 C331.10,741.67 332.35,733.17 334.70,720.00 C337.05,706.83 340.18,691.10 342.60,681.00 C345.02,670.90 346.90,665.77 349.20,659.40 C351.50,653.03 353.84,647.42 356.40,642.80 C358.96,638.18 361.06,634.48 364.55,631.70 C368.04,628.92 373.08,627.27 377.35,626.10 C381.62,624.93 384.46,624.60 390.15,624.70 C395.84,624.80 404.52,625.60 411.50,626.70 C418.48,627.80 425.15,629.93 432.00,631.30 C438.85,632.67 447.43,633.43 452.60,634.90 C457.77,636.37 457.85,638.47 463.00,640.10 C468.15,641.73 477.33,642.65 483.50,644.70 C489.67,646.75 495.48,650.48 500.00,652.40 C504.52,654.32 505.40,653.68 510.60,656.20 C515.80,658.72 524.33,663.98 531.20,667.50 C538.07,671.02 544.93,673.10 551.80,677.30 C558.67,681.50 565.55,687.03 572.40,692.70 C579.25,698.37 586.38,704.78 592.90,711.30 C599.42,717.82 608.40,728.38 611.50,731.80" fill="none" stroke="#EDB120" stroke-width="3.2" stroke-linejoin="round" stroke-linecap="round"/>
<path d="M125.40,928.90 C126.02,927.67 127.87,924.33 129.10,921.50 C130.33,918.67 130.95,914.98 132.80,911.90 C134.65,908.82 137.73,905.48 140.20,903.00 C142.67,900.52 145.13,898.55 147.60,897.00 C150.07,895.45 152.53,894.50 155.00,893.70 C157.47,892.90 159.92,891.88 162.40,892.20 C164.88,892.52 167.42,893.80 169.90,895.60 C172.38,897.40 174.83,900.42 177.30,903.00 C179.77,905.58 182.23,908.63 184.70,911.10 C187.17,913.57 189.63,916.20 192.10,917.80 C194.57,919.40 197.03,919.83 199.50,920.70 C201.97,921.57 204.38,922.18 206.90,923.00 C209.42,923.82 211.42,924.50 214.60,925.60 C217.78,926.70 222.25,928.20 226.00,929.60 C229.75,931.00 233.42,932.70 237.10,934.00 C240.78,935.30 245.05,936.23 248.10,937.40 C251.15,938.57 252.33,939.53 255.40,941.00 C258.47,942.47 262.82,944.72 266.50,946.20 C270.18,947.68 273.83,948.92 277.50,949.90 C281.17,950.88 285.43,952.10 288.50,952.10 C291.57,952.10 294.05,950.95 295.90,949.90 C297.75,948.85 298.50,947.03 299.60,945.80 C300.70,944.57 301.60,944.87 302.50,942.50 C303.40,940.13 304.12,935.35 305.00,931.60 C305.88,927.85 306.58,925.27 307.80,920.00 C309.02,914.73 309.93,915.00 312.30,900.00 C314.67,885.00 318.83,853.33 322.00,830.00 C325.17,806.67 328.62,778.33 331.30,760.00 C333.98,741.67 335.63,733.17 338.10,720.00 C340.57,706.83 343.57,691.10 346.10,681.00 C348.63,670.90 350.80,665.77 353.30,659.40 C355.80,653.03 358.50,646.97 361.10,642.80 C363.70,638.63 365.93,636.72 368.90,634.40 C371.87,632.08 375.38,630.15 378.90,628.90 C382.42,627.65 384.57,627.30 390.00,626.90 C395.43,626.50 404.50,626.05 411.50,626.50 C418.50,626.95 425.15,628.48 432.00,629.60 C438.85,630.72 447.43,631.92 452.60,633.20 C457.77,634.48 457.85,635.85 463.00,637.30 C468.15,638.75 477.33,639.93 483.50,641.90 C489.67,643.87 495.48,647.35 500.00,649.10 C504.52,650.85 505.40,650.15 510.60,652.40 C515.80,654.65 524.33,659.00 531.20,662.60 C538.07,666.20 544.93,669.70 551.80,674.00 C558.67,678.30 565.55,682.92 572.40,688.40 C579.25,693.88 586.38,700.82 592.90,706.90 C599.42,712.98 608.40,721.90 611.50,724.90" fill="none" stroke="#7E2F8E" stroke-width="3.2" stroke-linejoin="round" stroke-linecap="round"/>
<rect x="106.5" y="576.9" width="520.00" height="403.70" fill="none" stroke="#111" stroke-width="3"/>
<line x1="106.50" y1="980.6" x2="106.50" y2="987.1" stroke="#111" stroke-width="3"/>
<text transform="translate(106.50,1027.1) scale(0.99,1.04)" text-anchor="middle" class="tk">500</text>
<line x1="210.50" y1="980.6" x2="210.50" y2="987.1" stroke="#111" stroke-width="3"/>
<text transform="translate(210.50,1027.1) scale(0.99,1.04)" text-anchor="middle" class="tk">600</text>
<line x1="314.50" y1="980.6" x2="314.50" y2="987.1" stroke="#111" stroke-width="3"/>
<text transform="translate(314.50,1027.1) scale(0.99,1.04)" text-anchor="middle" class="tk">700</text>
<line x1="418.50" y1="980.6" x2="418.50" y2="987.1" stroke="#111" stroke-width="3"/>
<text transform="translate(418.50,1027.1) scale(0.99,1.04)" text-anchor="middle" class="tk">800</text>
<line x1="522.50" y1="980.6" x2="522.50" y2="987.1" stroke="#111" stroke-width="3"/>
<text transform="translate(522.50,1027.1) scale(0.99,1.04)" text-anchor="middle" class="tk">900</text>
<line x1="626.50" y1="980.6" x2="626.50" y2="987.1" stroke="#111" stroke-width="3"/>
<text transform="translate(626.50,1027.1) scale(0.99,1.04)" text-anchor="middle" class="tk">1000</text>
<line x1="100.0" y1="980.60" x2="106.5" y2="980.60" stroke="#111" stroke-width="3"/>
<text transform="translate(89.8,992.90) scale(0.99,1.04)" text-anchor="end" class="tk">0</text>
<line x1="100.0" y1="913.32" x2="106.5" y2="913.32" stroke="#111" stroke-width="3"/>
<text transform="translate(89.8,925.62) scale(0.99,1.04)" text-anchor="end" class="tk">0.1</text>
<line x1="100.0" y1="846.03" x2="106.5" y2="846.03" stroke="#111" stroke-width="3"/>
<text transform="translate(89.8,858.33) scale(0.99,1.04)" text-anchor="end" class="tk">0.2</text>
<line x1="100.0" y1="778.75" x2="106.5" y2="778.75" stroke="#111" stroke-width="3"/>
<text transform="translate(89.8,791.05) scale(0.99,1.04)" text-anchor="end" class="tk">0.3</text>
<line x1="100.0" y1="711.47" x2="106.5" y2="711.47" stroke="#111" stroke-width="3"/>
<text transform="translate(89.8,723.77) scale(0.99,1.04)" text-anchor="end" class="tk">0.4</text>
<line x1="100.0" y1="644.18" x2="106.5" y2="644.18" stroke="#111" stroke-width="3"/>
<text transform="translate(89.8,656.48) scale(0.99,1.04)" text-anchor="end" class="tk">0.5</text>
<line x1="100.0" y1="576.90" x2="106.5" y2="576.90" stroke="#111" stroke-width="3"/>
<text transform="translate(89.8,589.20) scale(0.99,1.04)" text-anchor="end" class="tk">0.6</text>
<text transform="translate(366.50,1067.1) scale(1,1.03)" text-anchor="middle" class="lb">Wavelength (nm)</text>
<text transform="translate(30.6,778.75) rotate(-90) scale(1,1.03)" text-anchor="middle" class="lb">Reflectance</text>
<text x="5.8" y="537.3" class="pl">C</text>
<rect x="127.7" y="599.2" width="140.4" height="142.9" fill="#fff" stroke="#111" stroke-width="3"/>
<line x1="135.6" y1="619.90" x2="214.8" y2="619.90" stroke="#0072BD" stroke-width="2.8"/>
<text x="221.2" y="630.50" class="lg">CK</text>
<line x1="135.6" y1="653.90" x2="214.8" y2="653.90" stroke="#D95319" stroke-width="2.8"/>
<text x="221.2" y="664.50" class="lg">N1</text>
<line x1="135.6" y1="687.90" x2="214.8" y2="687.90" stroke="#EDB120" stroke-width="2.8"/>
<text x="221.2" y="698.50" class="lg">N2</text>
<line x1="135.6" y1="721.90" x2="214.8" y2="721.90" stroke="#7E2F8E" stroke-width="2.8"/>
<text x="221.2" y="732.50" class="lg">N3</text>
<path d="M821.00,806.40 C821.70,806.90 823.90,807.28 825.20,809.40 C826.50,811.52 827.78,815.92 828.80,819.10 C829.82,822.28 830.08,824.18 831.30,828.50 C832.52,832.82 834.50,840.25 836.10,845.00 C837.70,849.75 839.10,854.00 840.90,857.00 C842.70,860.00 845.10,861.00 846.90,863.00 C848.70,865.00 849.90,865.17 851.70,869.00 C853.50,872.83 855.70,880.67 857.70,886.00 C859.70,891.33 861.28,895.30 863.70,901.00 C866.12,906.70 869.58,919.20 872.20,920.20 C874.82,921.20 877.00,910.78 879.40,907.00 C881.80,903.22 884.68,899.50 886.60,897.50 C888.52,895.50 889.20,896.58 890.90,895.00 C892.60,893.42 894.60,888.75 896.80,888.00 C899.00,887.25 902.15,887.68 904.10,890.50 C906.05,893.32 907.03,902.93 908.50,904.90 C909.97,906.87 911.18,903.05 912.90,902.30 C914.62,901.55 916.83,902.05 918.80,900.40 C920.77,898.75 922.48,895.00 924.70,892.40 C926.92,889.80 929.90,884.95 932.10,884.80 C934.30,884.65 935.95,888.40 937.90,891.50 C939.85,894.60 942.08,900.93 943.80,903.40 C945.52,905.87 946.23,906.80 948.20,906.30 C950.17,905.80 952.90,900.52 955.60,900.40 C958.30,900.28 961.47,906.70 964.40,905.60 C967.33,904.50 970.68,898.07 973.20,893.80 C975.72,889.53 977.63,884.38 979.50,880.00 C981.37,875.62 982.93,873.17 984.40,867.50 C985.87,861.83 987.27,853.92 988.30,846.00 C989.33,838.08 989.48,831.83 990.60,820.00 C991.72,808.17 993.62,791.67 995.00,775.00 C996.38,758.33 997.93,733.62 998.90,720.00 C999.87,706.38 999.88,700.98 1000.80,693.30 C1001.72,685.62 1003.05,678.25 1004.40,673.90 C1005.75,669.55 1007.30,667.52 1008.90,667.20 C1010.50,666.88 1012.15,667.65 1014.00,672.00 C1015.85,676.35 1018.25,685.30 1020.00,693.30 C1021.75,701.30 1022.83,711.38 1024.50,720.00 C1026.17,728.62 1027.75,733.33 1030.00,745.00 C1032.25,756.67 1035.00,775.00 1038.00,790.00 C1041.00,805.00 1045.33,824.00 1048.00,835.00 C1050.67,846.00 1052.17,851.08 1054.00,856.00 C1055.83,860.92 1056.97,862.40 1059.00,864.50 C1061.03,866.60 1063.47,866.92 1066.20,868.60 C1068.93,870.28 1072.32,872.45 1075.40,874.60 C1078.48,876.75 1082.12,880.60 1084.70,881.50 C1087.28,882.40 1088.50,879.73 1090.90,880.00 C1093.30,880.27 1096.35,883.27 1099.10,883.10 C1101.85,882.93 1104.65,879.00 1107.40,879.00 C1110.15,879.00 1113.20,881.73 1115.60,883.10 C1118.00,884.47 1119.40,886.68 1121.80,887.20 C1124.20,887.72 1127.43,886.88 1130.00,886.20 C1132.57,885.52 1134.80,883.02 1137.20,883.10 C1139.60,883.18 1141.83,885.07 1144.40,886.70 C1146.97,888.33 1149.17,892.90 1152.60,892.90 C1156.03,892.90 1161.90,887.38 1165.00,886.70 C1168.10,886.02 1168.45,887.35 1171.20,888.80 C1173.95,890.25 1178.20,894.95 1181.50,895.40 C1184.80,895.85 1187.98,893.37 1191.00,891.50 C1194.02,889.63 1196.58,884.53 1199.60,884.20 C1202.62,883.87 1205.92,887.18 1209.10,889.50 C1212.28,891.82 1216.15,896.75 1218.70,898.10 C1221.25,899.45 1221.85,898.95 1224.40,897.60 C1226.95,896.25 1230.82,889.12 1234.00,890.00 C1237.18,890.88 1240.95,900.35 1243.50,902.90 C1246.05,905.45 1247.07,905.30 1249.30,905.30 C1251.53,905.30 1254.20,903.38 1256.90,902.90 C1259.60,902.42 1261.98,900.42 1265.50,902.40 C1269.02,904.38 1274.17,914.40 1278.00,914.80 C1281.83,915.20 1285.32,907.70 1288.50,904.80 C1291.68,901.90 1294.08,898.40 1297.10,897.40 C1300.12,896.40 1305.02,898.57 1306.60,898.80" fill="none" stroke="#0072BD" stroke-width="3.2" stroke-linejoin="round" stroke-linecap="round"/>
<path d="M821.00,810.60 C821.70,811.00 823.90,811.18 825.20,813.00 C826.50,814.82 827.78,818.75 828.80,821.50 C829.82,824.25 830.08,825.50 831.30,829.50 C832.52,833.50 834.50,840.82 836.10,845.50 C837.70,850.18 839.10,854.58 840.90,857.60 C842.70,860.62 845.10,861.60 846.90,863.60 C848.70,865.60 849.90,865.78 851.70,869.60 C853.50,873.42 855.70,881.28 857.70,886.50 C859.70,891.72 861.28,895.70 863.70,900.90 C866.12,906.10 869.58,916.90 872.20,917.70 C874.82,918.50 877.00,909.30 879.40,905.70 C881.80,902.10 884.68,898.08 886.60,896.10 C888.52,894.12 889.20,895.28 890.90,893.80 C892.60,892.32 894.60,887.93 896.80,887.20 C899.00,886.47 902.15,886.83 904.10,889.40 C906.05,891.97 907.03,900.88 908.50,902.60 C909.97,904.32 911.18,900.43 912.90,899.70 C914.62,898.97 916.83,899.67 918.80,898.20 C920.77,896.73 922.48,893.22 924.70,890.90 C926.92,888.58 929.90,884.30 932.10,884.30 C934.30,884.30 935.95,888.22 937.90,890.90 C939.85,893.58 942.08,898.57 943.80,900.40 C945.52,902.23 946.23,902.38 948.20,901.90 C950.17,901.42 952.90,897.50 955.60,897.50 C958.30,897.50 961.47,902.98 964.40,901.90 C967.33,900.82 970.68,894.73 973.20,891.00 C975.72,887.27 977.63,883.55 979.50,879.50 C981.37,875.45 982.93,872.30 984.40,866.70 C985.87,861.10 987.27,853.68 988.30,845.90 C989.33,838.12 989.48,831.73 990.60,820.00 C991.72,808.27 993.42,792.17 995.00,775.50 C996.58,758.83 998.93,733.70 1000.10,720.00 C1001.27,706.30 1001.03,700.63 1002.00,693.30 C1002.97,685.97 1004.67,679.70 1005.90,676.00 C1007.13,672.30 1008.05,671.10 1009.40,671.10 C1010.75,671.10 1012.23,672.30 1014.00,676.00 C1015.77,679.70 1018.25,685.97 1020.00,693.30 C1021.75,700.63 1022.83,711.38 1024.50,720.00 C1026.17,728.62 1027.75,733.33 1030.00,745.00 C1032.25,756.67 1035.00,775.00 1038.00,790.00 C1041.00,805.00 1045.33,824.00 1048.00,835.00 C1050.67,846.00 1052.17,851.08 1054.00,856.00 C1055.83,860.92 1056.97,862.43 1059.00,864.50 C1061.03,866.57 1063.47,866.72 1066.20,868.40 C1068.93,870.08 1072.32,872.48 1075.40,874.60 C1078.48,876.72 1082.12,880.27 1084.70,881.10 C1087.28,881.93 1088.50,879.33 1090.90,879.60 C1093.30,879.87 1096.35,882.87 1099.10,882.70 C1101.85,882.53 1104.65,878.60 1107.40,878.60 C1110.15,878.60 1113.20,881.33 1115.60,882.70 C1118.00,884.07 1119.40,886.28 1121.80,886.80 C1124.20,887.32 1127.43,886.48 1130.00,885.80 C1132.57,885.12 1134.80,882.62 1137.20,882.70 C1139.60,882.78 1141.83,884.67 1144.40,886.30 C1146.97,887.93 1149.17,892.50 1152.60,892.50 C1156.03,892.50 1161.90,886.98 1165.00,886.30 C1168.10,885.62 1168.45,886.95 1171.20,888.40 C1173.95,889.85 1178.20,894.55 1181.50,895.00 C1184.80,895.45 1187.98,892.97 1191.00,891.10 C1194.02,889.23 1196.58,884.13 1199.60,883.80 C1202.62,883.47 1205.92,886.78 1209.10,889.10 C1212.28,891.42 1216.15,896.35 1218.70,897.70 C1221.25,899.05 1221.85,898.55 1224.40,897.20 C1226.95,895.85 1230.82,888.72 1234.00,889.60 C1237.18,890.48 1240.95,899.95 1243.50,902.50 C1246.05,905.05 1247.07,904.90 1249.30,904.90 C1251.53,904.90 1254.20,902.98 1256.90,902.50 C1259.60,902.02 1261.98,900.02 1265.50,902.00 C1269.02,903.98 1274.17,914.00 1278.00,914.40 C1281.83,914.80 1285.32,906.80 1288.50,904.40 C1291.68,902.00 1294.08,900.50 1297.10,900.00 C1300.12,899.50 1305.02,901.17 1306.60,901.40" fill="none" stroke="#D95319" stroke-width="3.2" stroke-linejoin="round" stroke-linecap="round"/>
<path d="M821.00,819.70 C821.70,820.10 823.90,820.80 825.20,822.10 C826.50,823.40 827.78,826.02 828.80,827.50 C829.82,828.98 830.08,827.83 831.30,831.00 C832.52,834.17 834.50,841.92 836.10,846.50 C837.70,851.08 839.10,855.50 840.90,858.50 C842.70,861.50 845.10,862.50 846.90,864.50 C848.70,866.50 849.90,866.75 851.70,870.50 C853.50,874.25 855.70,881.93 857.70,887.00 C859.70,892.07 861.28,896.18 863.70,900.90 C866.12,905.62 869.58,914.70 872.20,915.30 C874.82,915.90 877.00,907.88 879.40,904.50 C881.80,901.12 884.68,897.00 886.60,895.00 C888.52,893.00 889.20,893.92 890.90,892.50 C892.60,891.08 894.60,887.12 896.80,886.50 C899.00,885.88 902.15,886.35 904.10,888.80 C906.05,891.25 907.03,899.75 908.50,901.20 C909.97,902.65 911.18,898.37 912.90,897.50 C914.62,896.63 916.83,897.35 918.80,896.00 C920.77,894.65 922.48,891.43 924.70,889.40 C926.92,887.37 929.90,883.70 932.10,883.80 C934.30,883.90 935.95,887.83 937.90,890.00 C939.85,892.17 942.08,895.43 943.80,896.80 C945.52,898.17 946.23,898.70 948.20,898.20 C950.17,897.70 952.90,893.80 955.60,893.80 C958.30,893.80 961.47,898.93 964.40,898.20 C967.33,897.47 970.68,892.60 973.20,889.40 C975.72,886.20 977.63,882.82 979.50,879.00 C981.37,875.18 982.93,871.92 984.40,866.50 C985.87,861.08 987.27,854.08 988.30,846.50 C989.33,838.92 989.15,832.50 990.60,821.00 C992.05,809.50 995.28,794.33 997.00,777.50 C998.72,760.67 999.68,734.03 1000.90,720.00 C1002.12,705.97 1003.13,699.97 1004.30,693.30 C1005.47,686.63 1006.30,682.40 1007.90,680.00 C1009.50,677.60 1012.47,679.08 1013.90,678.90 C1015.33,678.72 1015.07,676.50 1016.50,678.90 C1017.93,681.30 1020.75,686.45 1022.50,693.30 C1024.25,700.15 1025.33,711.38 1027.00,720.00 C1028.67,728.62 1030.67,733.33 1032.50,745.00 C1034.33,756.67 1035.42,775.00 1038.00,790.00 C1040.58,805.00 1045.33,824.00 1048.00,835.00 C1050.67,846.00 1052.17,851.08 1054.00,856.00 C1055.83,860.92 1056.97,862.50 1059.00,864.50 C1061.03,866.50 1063.47,866.42 1066.20,868.00 C1068.93,869.58 1072.32,871.93 1075.40,874.00 C1078.48,876.07 1082.12,879.58 1084.70,880.40 C1087.28,881.22 1088.50,878.63 1090.90,878.90 C1093.30,879.17 1096.35,882.17 1099.10,882.00 C1101.85,881.83 1104.65,877.90 1107.40,877.90 C1110.15,877.90 1113.20,880.63 1115.60,882.00 C1118.00,883.37 1119.40,885.58 1121.80,886.10 C1124.20,886.62 1127.43,885.78 1130.00,885.10 C1132.57,884.42 1134.80,881.92 1137.20,882.00 C1139.60,882.08 1141.83,883.97 1144.40,885.60 C1146.97,887.23 1149.17,891.80 1152.60,891.80 C1156.03,891.80 1161.90,886.28 1165.00,885.60 C1168.10,884.92 1168.45,886.25 1171.20,887.70 C1173.95,889.15 1178.20,893.85 1181.50,894.30 C1184.80,894.75 1187.98,892.27 1191.00,890.40 C1194.02,888.53 1196.58,883.43 1199.60,883.10 C1202.62,882.77 1205.92,886.08 1209.10,888.40 C1212.28,890.72 1216.15,895.65 1218.70,897.00 C1221.25,898.35 1221.85,897.85 1224.40,896.50 C1226.95,895.15 1230.82,888.02 1234.00,888.90 C1237.18,889.78 1240.95,899.25 1243.50,901.80 C1246.05,904.35 1247.07,904.20 1249.30,904.20 C1251.53,904.20 1254.20,902.28 1256.90,901.80 C1259.60,901.32 1261.98,899.32 1265.50,901.30 C1269.02,903.28 1274.17,913.30 1278.00,913.70 C1281.83,914.10 1285.32,906.40 1288.50,903.70 C1291.68,901.00 1294.08,898.30 1297.10,897.50 C1300.12,896.70 1305.02,898.67 1306.60,898.90" fill="none" stroke="#EDB120" stroke-width="3.2" stroke-linejoin="round" stroke-linecap="round"/>
<path d="M821.00,827.50 C821.70,827.90 823.90,828.50 825.20,829.90 C826.50,831.30 827.78,834.10 828.80,835.90 C829.82,837.70 830.08,838.08 831.30,840.70 C832.52,843.32 834.50,848.18 836.10,851.60 C837.70,855.02 839.10,858.70 840.90,861.20 C842.70,863.70 845.10,864.80 846.90,866.60 C848.70,868.40 849.90,868.48 851.70,872.00 C853.50,875.52 855.70,882.88 857.70,887.70 C859.70,892.52 861.28,896.80 863.70,900.90 C866.12,905.00 869.58,912.10 872.20,912.30 C874.82,912.50 877.00,905.40 879.40,902.10 C881.80,898.80 884.68,894.37 886.60,892.50 C888.52,890.63 889.20,892.15 890.90,890.90 C892.60,889.65 894.60,885.50 896.80,885.00 C899.00,884.50 902.15,885.93 904.10,887.90 C906.05,889.87 907.03,895.68 908.50,896.80 C909.97,897.92 911.18,895.22 912.90,894.60 C914.62,893.98 916.83,894.33 918.80,893.10 C920.77,891.87 922.48,889.03 924.70,887.20 C926.92,885.37 929.90,882.10 932.10,882.10 C934.30,882.10 935.95,885.37 937.90,887.20 C939.85,889.03 942.08,891.75 943.80,893.10 C945.52,894.45 946.23,895.67 948.20,895.30 C950.17,894.93 952.90,891.27 955.60,890.90 C958.30,890.53 961.47,894.20 964.40,893.10 C967.33,892.00 970.40,886.98 973.20,884.30 C976.00,881.62 978.78,879.93 981.20,877.00 C983.62,874.07 986.08,870.80 987.70,866.70 C989.32,862.60 990.03,857.48 990.90,852.40 C991.77,847.32 992.30,841.60 992.90,836.20 C993.50,830.80 993.42,830.20 994.50,820.00 C995.58,809.80 997.83,791.67 999.40,775.00 C1000.97,758.33 1002.50,733.62 1003.90,720.00 C1005.30,706.38 1005.67,699.78 1007.80,693.30 C1009.93,686.82 1013.75,681.10 1016.70,681.10 C1019.65,681.10 1023.45,686.82 1025.50,693.30 C1027.55,699.78 1027.67,711.38 1029.00,720.00 C1030.33,728.62 1031.42,733.33 1033.50,745.00 C1035.58,756.67 1038.50,775.00 1041.50,790.00 C1044.50,805.00 1048.92,824.33 1051.50,835.00 C1054.08,845.67 1055.33,849.67 1057.00,854.00 C1058.67,858.33 1059.97,859.25 1061.50,861.00 C1063.03,862.75 1063.88,862.75 1066.20,864.50 C1068.52,866.25 1072.32,868.80 1075.40,871.50 C1078.48,874.20 1082.12,879.42 1084.70,880.70 C1087.28,881.98 1088.50,878.93 1090.90,879.20 C1093.30,879.47 1096.35,882.47 1099.10,882.30 C1101.85,882.13 1104.65,878.20 1107.40,878.20 C1110.15,878.20 1113.20,880.93 1115.60,882.30 C1118.00,883.67 1119.40,885.88 1121.80,886.40 C1124.20,886.92 1127.43,886.08 1130.00,885.40 C1132.57,884.72 1134.80,882.22 1137.20,882.30 C1139.60,882.38 1141.83,884.27 1144.40,885.90 C1146.97,887.53 1149.17,892.10 1152.60,892.10 C1156.03,892.10 1161.90,886.58 1165.00,885.90 C1168.10,885.22 1168.45,886.55 1171.20,888.00 C1173.95,889.45 1178.20,894.15 1181.50,894.60 C1184.80,895.05 1187.98,892.57 1191.00,890.70 C1194.02,888.83 1196.58,883.73 1199.60,883.40 C1202.62,883.07 1205.92,886.38 1209.10,888.70 C1212.28,891.02 1216.15,895.95 1218.70,897.30 C1221.25,898.65 1221.85,898.15 1224.40,896.80 C1226.95,895.45 1230.82,888.32 1234.00,889.20 C1237.18,890.08 1240.95,899.55 1243.50,902.10 C1246.05,904.65 1247.07,904.50 1249.30,904.50 C1251.53,904.50 1254.20,902.58 1256.90,902.10 C1259.60,901.62 1261.98,899.62 1265.50,901.60 C1269.02,903.58 1274.17,913.60 1278.00,914.00 C1281.83,914.40 1285.32,906.15 1288.50,904.00 C1291.68,901.85 1294.08,901.35 1297.10,901.10 C1300.12,900.85 1305.02,902.27 1306.60,902.50" fill="none" stroke="#7E2F8E" stroke-width="3.2" stroke-linejoin="round" stroke-linecap="round"/>
<rect x="801.3" y="577" width="520.10" height="403.40" fill="none" stroke="#111" stroke-width="3"/>
<line x1="801.30" y1="980.4" x2="801.30" y2="986.9" stroke="#111" stroke-width="3"/>
<text transform="translate(801.30,1026.9) scale(0.99,1.04)" text-anchor="middle" class="tk">500</text>
<line x1="905.32" y1="980.4" x2="905.32" y2="986.9" stroke="#111" stroke-width="3"/>
<text transform="translate(905.32,1026.9) scale(0.99,1.04)" text-anchor="middle" class="tk">600</text>
<line x1="1009.34" y1="980.4" x2="1009.34" y2="986.9" stroke="#111" stroke-width="3"/>
<text transform="translate(1009.34,1026.9) scale(0.99,1.04)" text-anchor="middle" class="tk">700</text>
<line x1="1113.36" y1="980.4" x2="1113.36" y2="986.9" stroke="#111" stroke-width="3"/>
<text transform="translate(1113.36,1026.9) scale(0.99,1.04)" text-anchor="middle" class="tk">800</text>
<line x1="1217.38" y1="980.4" x2="1217.38" y2="986.9" stroke="#111" stroke-width="3"/>
<text transform="translate(1217.38,1026.9) scale(0.99,1.04)" text-anchor="middle" class="tk">900</text>
<line x1="1321.40" y1="980.4" x2="1321.40" y2="986.9" stroke="#111" stroke-width="3"/>
<text transform="translate(1321.40,1026.9) scale(0.99,1.04)" text-anchor="middle" class="tk">1000</text>
<line x1="794.8" y1="980.40" x2="801.3" y2="980.40" stroke="#111" stroke-width="3"/>
<text transform="translate(784.5999999999999,992.70) scale(0.99,1.04)" text-anchor="end" class="tk">-0.02</text>
<line x1="794.8" y1="879.55" x2="801.3" y2="879.55" stroke="#111" stroke-width="3"/>
<text transform="translate(784.5999999999999,891.85) scale(0.99,1.04)" text-anchor="end" class="tk">0</text>
<line x1="794.8" y1="778.70" x2="801.3" y2="778.70" stroke="#111" stroke-width="3"/>
<text transform="translate(784.5999999999999,791.00) scale(0.99,1.04)" text-anchor="end" class="tk">0.02</text>
<line x1="794.8" y1="677.85" x2="801.3" y2="677.85" stroke="#111" stroke-width="3"/>
<text transform="translate(784.5999999999999,690.15) scale(0.99,1.04)" text-anchor="end" class="tk">0.04</text>
<line x1="794.8" y1="577.00" x2="801.3" y2="577.00" stroke="#111" stroke-width="3"/>
<text transform="translate(784.5999999999999,589.30) scale(0.99,1.04)" text-anchor="end" class="tk">0.06</text>
<text transform="translate(1061.35,1066.9) scale(1,1.03)" text-anchor="middle" class="lb">Wavelength (nm)</text>
<text transform="translate(697.2,778.70) rotate(-90) scale(1,1.03)" text-anchor="middle" class="lb">Reflectance</text>
<text x="674" y="537" class="pl">D</text>
<rect x="822" y="599.2" width="140.4" height="142.9" fill="#fff" stroke="#111" stroke-width="3"/>
<line x1="829.9" y1="619.90" x2="909.1" y2="619.90" stroke="#0072BD" stroke-width="2.8"/>
<text x="915.5" y="630.50" class="lg">CK</text>
<line x1="829.9" y1="653.90" x2="909.1" y2="653.90" stroke="#D95319" stroke-width="2.8"/>
<text x="915.5" y="664.50" class="lg">N1</text>
<line x1="829.9" y1="687.90" x2="909.1" y2="687.90" stroke="#EDB120" stroke-width="2.8"/>
<text x="915.5" y="698.50" class="lg">N2</text>
<line x1="829.9" y1="721.90" x2="909.1" y2="721.90" stroke="#7E2F8E" stroke-width="2.8"/>
<text x="915.5" y="732.50" class="lg">N3</text>
</svg></body></html>
